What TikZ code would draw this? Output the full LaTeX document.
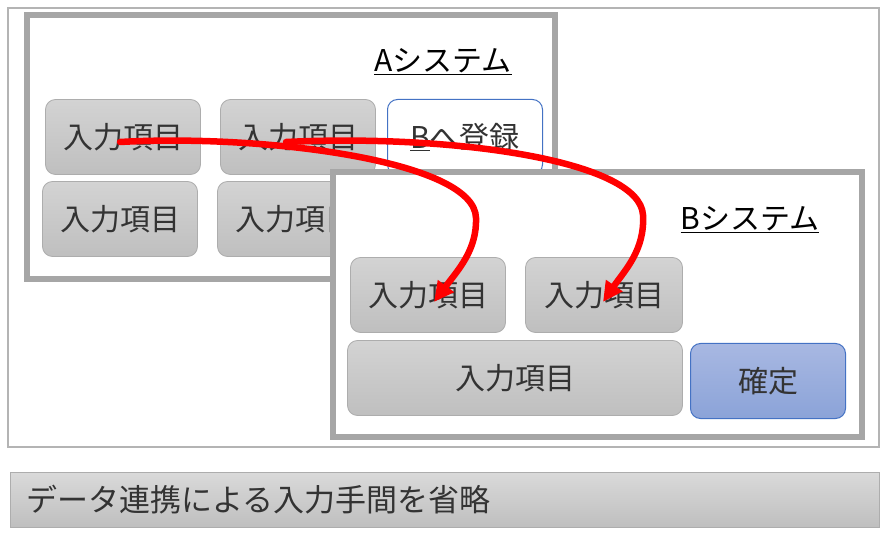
\documentclass[tikz,border=0pt]{standalone}
\usepackage{fontspec}
\newfontfamily\jpfont{Noto Sans CJK JP}
\usepackage{tikz}
\usetikzlibrary{arrows.meta,calc,positioning}
\definecolor{frameGray}{HTML}{A6A6A6}
\definecolor{thinGray}{HTML}{B4B4B4}
\definecolor{itemTop}{HTML}{D3D3D3}
\definecolor{itemBot}{HTML}{BFBFBF}
\definecolor{itemEdge}{HTML}{ADADAD}
\definecolor{btnEdge}{HTML}{4472C4}
\definecolor{btnTop}{HTML}{A8B8E2}
\definecolor{btnBot}{HTML}{8BA3D8}

\begin{document}
\begin{tikzpicture}[x=1pt, y=-1pt,
    item/.style={
      draw=itemEdge, line width=0.8pt, rounded corners=10pt,
      top color=itemTop, bottom color=itemBot,
      minimum width=155pt, minimum height=75pt,
      text=black!80,
      font=\jpfont\fontsize{30}{30}\selectfont,
      inner sep=0pt
    },
    btn/.style={
      item, draw=btnEdge, line width=1pt
    },
    sysframe/.style={
      draw=frameGray, line width=6pt, fill=white,
      inner sep=0pt
    },
    syslabel/.style={
      text=black, font=\jpfont\fontsize{30}{30}\selectfont,
      inner sep=0pt
    },
    flow/.style={-{Triangle[length=20pt,width=19pt]}, line width=6.5pt, draw=red,
      line cap=round}
  ]
  \useasboundingbox (0,0) rectangle (889,537);

  % Outer frame
  \node[draw=thinGray, line width=1.5pt, minimum width=871pt, minimum height=439pt,
    inner sep=0pt] (outer) at (443.5,227.5) {};

  % A system
  \node[sysframe, minimum width=528pt, minimum height=264pt] (sysA) at (291,147) {};
  \node[syslabel] (labA) at (443,62) {\underline{Aシステム}};

  \node[item] (a1) at (123,137) {入力項目};
  \node[item] (a2) at (298,137) {入力項目};
  \node[btn, top color=white, bottom color=white] (aReg) at (465,137) {\underline{B}へ登録};
  \node[item] (a3) at (120,219) {入力項目};
  \node[item] (a4) at (295,219) {入力項目};

  % B system
  \node[sysframe, minimum width=529pt, minimum height=265pt] (sysB) at (597.5,304.5) {};
  \node[syslabel] (labB) at (750,220) {\underline{Bシステム}};

  \node[item] (b1) at (428,295) {入力項目};
  \node[item, minimum width=157pt] (b2) at (604,295) {入力項目};
  \node[item, minimum width=335pt] (b3) at (515,378) {入力項目};
  \node[btn, top color=btnTop, bottom color=btnBot] (bOk) at (768,381) {確定};

  % Data transfer arrows
  \coordinate (k1) at (476,218);
  \coordinate (k2) at (643,215);
  \draw[flow] ($(a1.center)+(-3,5)$) .. controls (260,134) and (475,160) .. (k1)
    .. controls (477,250) and (458,270) .. ($(b1.center)+(6,7)$);
  \draw[flow] ($(a2.center)+(-12,5)$) .. controls (450,134) and (640,160) .. (k2)
    .. controls (645,250) and (625,270) .. ($(b2.center)+(-1,7)$);

  % Caption bar
  \node[draw=itemEdge, line width=1pt, top color=itemTop!85, bottom color=itemBot,
    minimum width=869pt, minimum height=55pt, inner sep=0pt] (bar) at (444.5,499.5) {};
  \node[anchor=west, text=black!80, font=\jpfont\fontsize{31}{31}\selectfont,
    inner sep=0pt] (barText) at ($(bar.west)+(17,0)$) {データ連携による入力手間を省略};

\end{tikzpicture}
\end{document}
